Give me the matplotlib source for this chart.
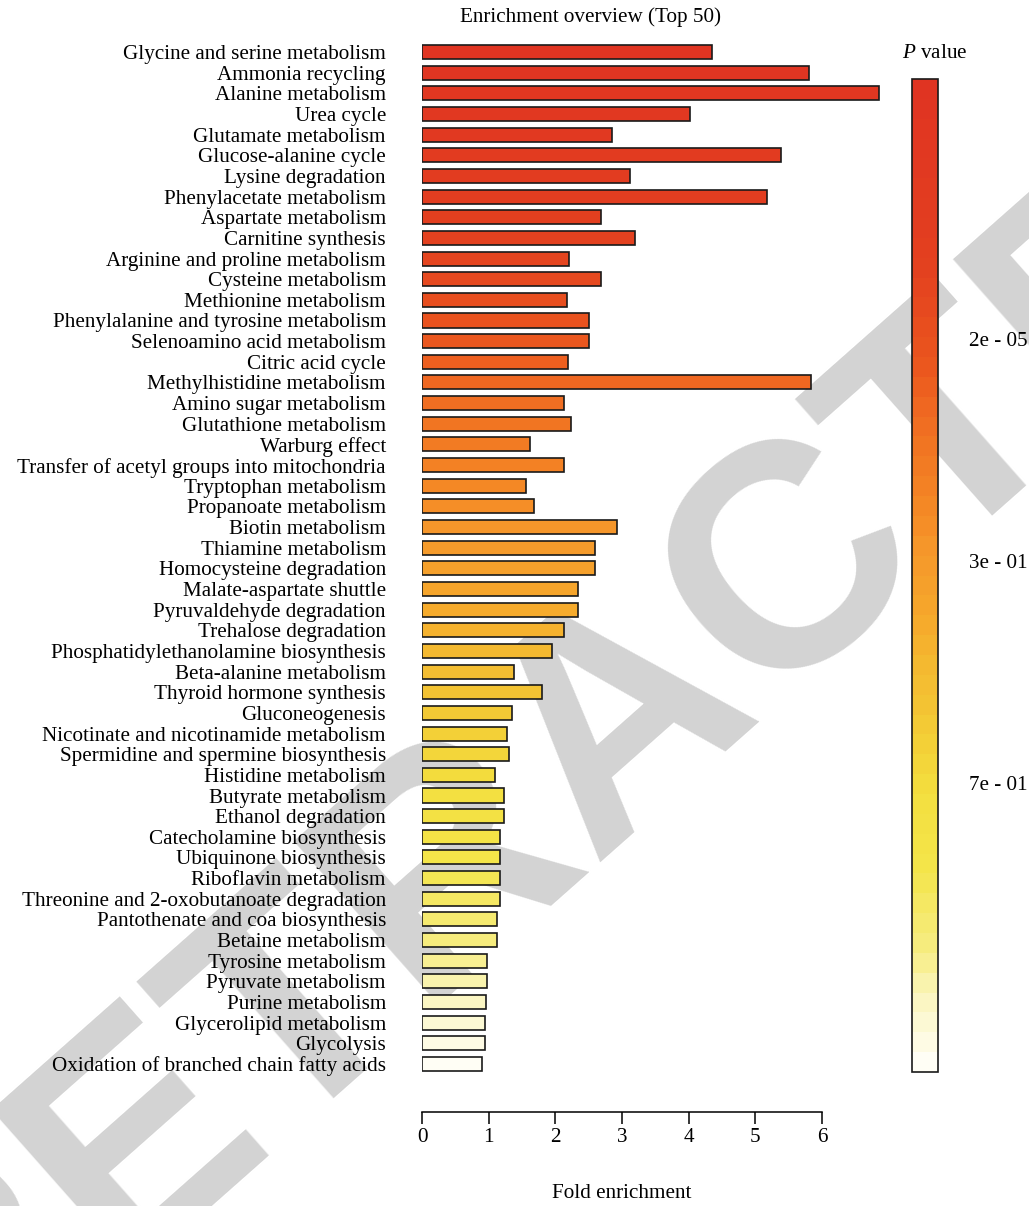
import matplotlib
matplotlib.use("Agg")
import matplotlib.pyplot as plt
import numpy as np
from matplotlib.colors import LinearSegmentedColormap, ListedColormap, Normalize
from matplotlib.cm import ScalarMappable

plt.rcParams['font.family'] = ['Liberation Serif', 'DejaVu Serif']
plt.rcParams['mathtext.fontset'] = 'custom'
plt.rcParams['mathtext.rm'] = 'Liberation Serif'
plt.rcParams['mathtext.it'] = 'Liberation Serif:italic'

pathways = [
    "Glycine and serine metabolism", "Ammonia recycling", "Alanine metabolism",
    "Urea cycle", "Glutamate metabolism", "Glucose-alanine cycle",
    "Lysine degradation", "Phenylacetate metabolism", "Aspartate metabolism",
    "Carnitine synthesis", "Arginine and proline metabolism", "Cysteine metabolism",
    "Methionine metabolism", "Phenylalanine and tyrosine metabolism",
    "Selenoamino acid metabolism", "Citric acid cycle", "Methylhistidine metabolism",
    "Amino sugar metabolism", "Glutathione metabolism", "Warburg effect",
    "Transfer of acetyl groups into mitochondria", "Tryptophan metabolism",
    "Propanoate metabolism", "Biotin metabolism", "Thiamine metabolism",
    "Homocysteine degradation", "Malate-aspartate shuttle", "Pyruvaldehyde degradation",
    "Trehalose degradation", "Phosphatidylethanolamine biosynthesis",
    "Beta-alanine metabolism", "Thyroid hormone synthesis", "Gluconeogenesis",
    "Nicotinate and nicotinamide metabolism", "Spermidine and spermine biosynthesis",
    "Histidine metabolism", "Butyrate metabolism", "Ethanol degradation",
    "Catecholamine biosynthesis", "Ubiquinone biosynthesis", "Riboflavin metabolism",
    "Threonine and 2-oxobutanoate degradation", "Pantothenate and coa biosynthesis",
    "Betaine metabolism", "Tyrosine metabolism", "Pyruvate metabolism",
    "Purine metabolism", "Glycerolipid metabolism", "Glycolysis",
    "Oxidation of branched chain fatty acids",
]

fold_enrichment = [
    4.35, 5.81, 6.86, 4.02, 2.85, 5.38, 3.12, 5.18, 2.68, 3.19,
    2.21, 2.69, 2.18, 2.51, 2.51, 2.19, 5.83, 2.13, 2.23, 1.62,
    2.13, 1.56, 1.68, 2.92, 2.60, 2.60, 2.34, 2.34, 2.13, 1.95,
    1.38, 1.80, 1.35, 1.27, 1.31, 1.09, 1.23, 1.23, 1.17, 1.17,
    1.17, 1.17, 1.12, 1.12, 0.98, 0.98, 0.955, 0.945, 0.945, 0.905,
]

# rank of p-value (1 = most significant)
p_rank = list(range(1, 51))

cbar_tick_labels = ["2e - 05", "3e - 01", "7e - 01"]
cbar_tick_pos = [0.738, 0.515, 0.291]

W, H = 1029, 1206
FS = 15.2
fig = plt.figure(figsize=(W / 100, H / 100), dpi=100, facecolor="white")

def fx(px):
    return px / W

def fy(py):
    return 1 - py / H

base = LinearSegmentedColormap.from_list(
    "pv",
    [(0.0, "#FFFEF5"), (0.06, "#FBF6C2"), (0.12, "#F6EC7E"), (0.20, "#F4E54A"),
     (0.28, "#F3DE3E"), (0.34, "#F3CB35"), (0.41, "#F4B830"), (0.45, "#F6AA2C"),
     (0.53, "#F5962A"), (0.58, "#F48524"), (0.67, "#EF6921"), (0.71, "#EB581E"),
     (0.82, "#E3401F"), (1.0, "#E03422")])
n = len(pathways)
cmap = ListedColormap([base(i / (n - 1)) for i in range(n)])

# watermark
fig.text(fx(622), fy(716), "RETRACTED", fontsize=228, family="Liberation Sans",
         weight="bold", color="#D3D3D3", rotation=41.5, rotation_mode="anchor",
         ha="center", va="center", zorder=-5)

top_px = 52 - 10.33
bot_px = 1064 + 10.33
ax = fig.add_axes([fx(422), fy(bot_px), fx(888.67) - fx(422), (bot_px - top_px) / H])
ax.patch.set_alpha(0)

y = np.arange(n)
colors = [cmap((n - r) / (n - 1)) for r in p_rank]
ax.barh(y, fold_enrichment, height=0.68, color=colors, edgecolor="#1a1a1a", linewidth=1.2)
ax.set_ylim(n - 0.5, -0.5)
ax.set_xlim(0, 7)
ax.set_yticks(y)
ax.set_yticklabels(pathways, fontsize=FS)
ax.tick_params(axis="y", length=0, pad=26)
for s in ["top", "right", "left"]:
    ax.spines[s].set_visible(False)
ax.spines["bottom"].set_position(("outward", 27.1))
ax.spines["bottom"].set_bounds(0, 6)
ax.spines["bottom"].set_linewidth(1.1)
ax.set_xticks(range(0, 7))
ax.tick_params(axis="x", length=8.9, width=1.1, labelsize=FS, pad=3)

fig.text(fx(622), fy(1194), "Fold enrichment", fontsize=FS, ha="center", va="center")
fig.text(fx(590), fy(17), "Enrichment overview (Top 50)", fontsize=FS, ha="center", va="center")
fig.text(fx(935), fy(53), r"$\mathit{P}$ value", fontsize=FS, ha="center", va="center")

cax = fig.add_axes([fx(912), fy(1072), fx(938) - fx(912), (1072 - 79) / H])
cb = fig.colorbar(ScalarMappable(norm=Normalize(0, 1), cmap=cmap), cax=cax)
cb.outline.set_linewidth(1.2)
cb.outline.set_edgecolor("#1a1a1a")
cb.set_ticks(cbar_tick_pos)
cb.set_ticklabels(cbar_tick_labels)
cax.tick_params(length=0, pad=22, labelsize=FS)

fig.savefig("out.png", dpi=100, facecolor="white")
